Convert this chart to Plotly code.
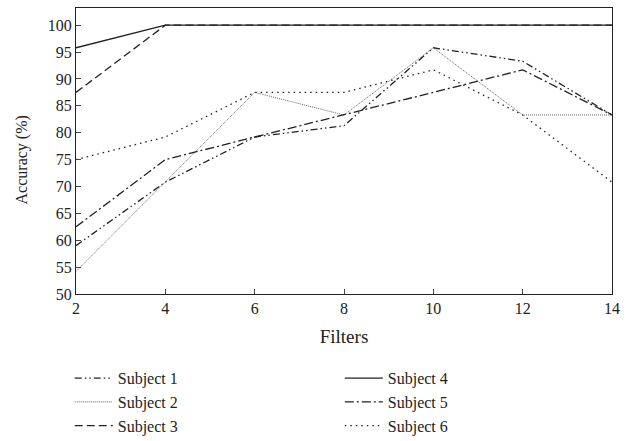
import plotly.graph_objects as go

filters = [2, 4, 6, 8, 10, 12, 14]
subject1 = [59.0, 70.8, 79.2, 81.3, 95.8, 93.3, 83.3]
subject2 = [54.2, 70.8, 87.5, 83.3, 95.8, 83.3, 83.3]
subject3 = [87.5, 100, 100, 100, 100, 100, 100]
subject4 = [95.8, 100, 100, 100, 100, 100, 100]
subject5 = [62.5, 75.0, 79.2, 83.3, 87.5, 91.7, 83.3]
subject6 = [75.0, 79.2, 87.5, 87.5, 91.7, 83.3, 70.8]
y_ticks = [50, 55, 60, 65, 70, 75, 80, 85, 90, 95, 100]
x_ticks = [2, 4, 6, 8, 10, 12, 14]

FONT = "Liberation Serif"

series = [
    ("Subject 1", subject1, dict(color="#222", width=1.3, dash="7px,3px,1.5px,3px,1.5px,3px"), "legend"),
    ("Subject 2", subject2, dict(color="#555", width=0.9, dash="1px,1px"), "legend"),
    ("Subject 3", subject3, dict(color="#222", width=1.3, dash="8px,4px"), "legend"),
    ("Subject 4", subject4, dict(color="#222", width=1.3), "legend2"),
    ("Subject 5", subject5, dict(color="#222", width=1.3, dash="9px,3px,2px,3px"), "legend2"),
    ("Subject 6", subject6, dict(color="#222", width=1.3, dash="1.5px,4px"), "legend2"),
]

fig = go.Figure()
for name, vals, line, lg in series:
    fig.add_trace(go.Scatter(x=filters, y=vals, mode="lines", name=name,
                             line=line, legend=lg))

legend_common = dict(xref="container", yref="container", xanchor="left", yanchor="top",
                     font=dict(family=FONT, size=16), tracegroupgap=0,
                     itemwidth=38, bgcolor="rgba(0,0,0,0)")

fig.update_layout(
    width=634, height=441,
    margin=dict(l=76, r=22, t=8, b=147, autoexpand=False),
    paper_bgcolor="white", plot_bgcolor="white",
    font=dict(family=FONT, size=16, color="#222"),
    xaxis=dict(range=[2, 14], tickvals=x_ticks, ticks="inside", ticklen=5,
               showline=True, linecolor="#222", linewidth=1.2, mirror=True,
               showgrid=False, zeroline=False,
               title=dict(text="Filters", standoff=13)),
    yaxis=dict(range=[50, 103.2], tickvals=y_ticks, ticks="inside", ticklen=5,
               showline=True, linecolor="#222", linewidth=1.2, mirror=True,
               showgrid=False, zeroline=False),
    legend=dict(x=0.110, y=0.181, **legend_common),
    legend2=dict(x=0.536, y=0.181, **legend_common),
    annotations=[dict(text="Accuracy (%)", textangle=-90, xref="paper", yref="paper",
                      x=-0.101, y=0.47, xanchor="center", yanchor="middle",
                      showarrow=False, font=dict(family=FONT, size=16, color="#222"))],
)

fig.write_html("out.html", config={"displayModeBar": False},
               post_script="document.body.style.margin='0px';")
